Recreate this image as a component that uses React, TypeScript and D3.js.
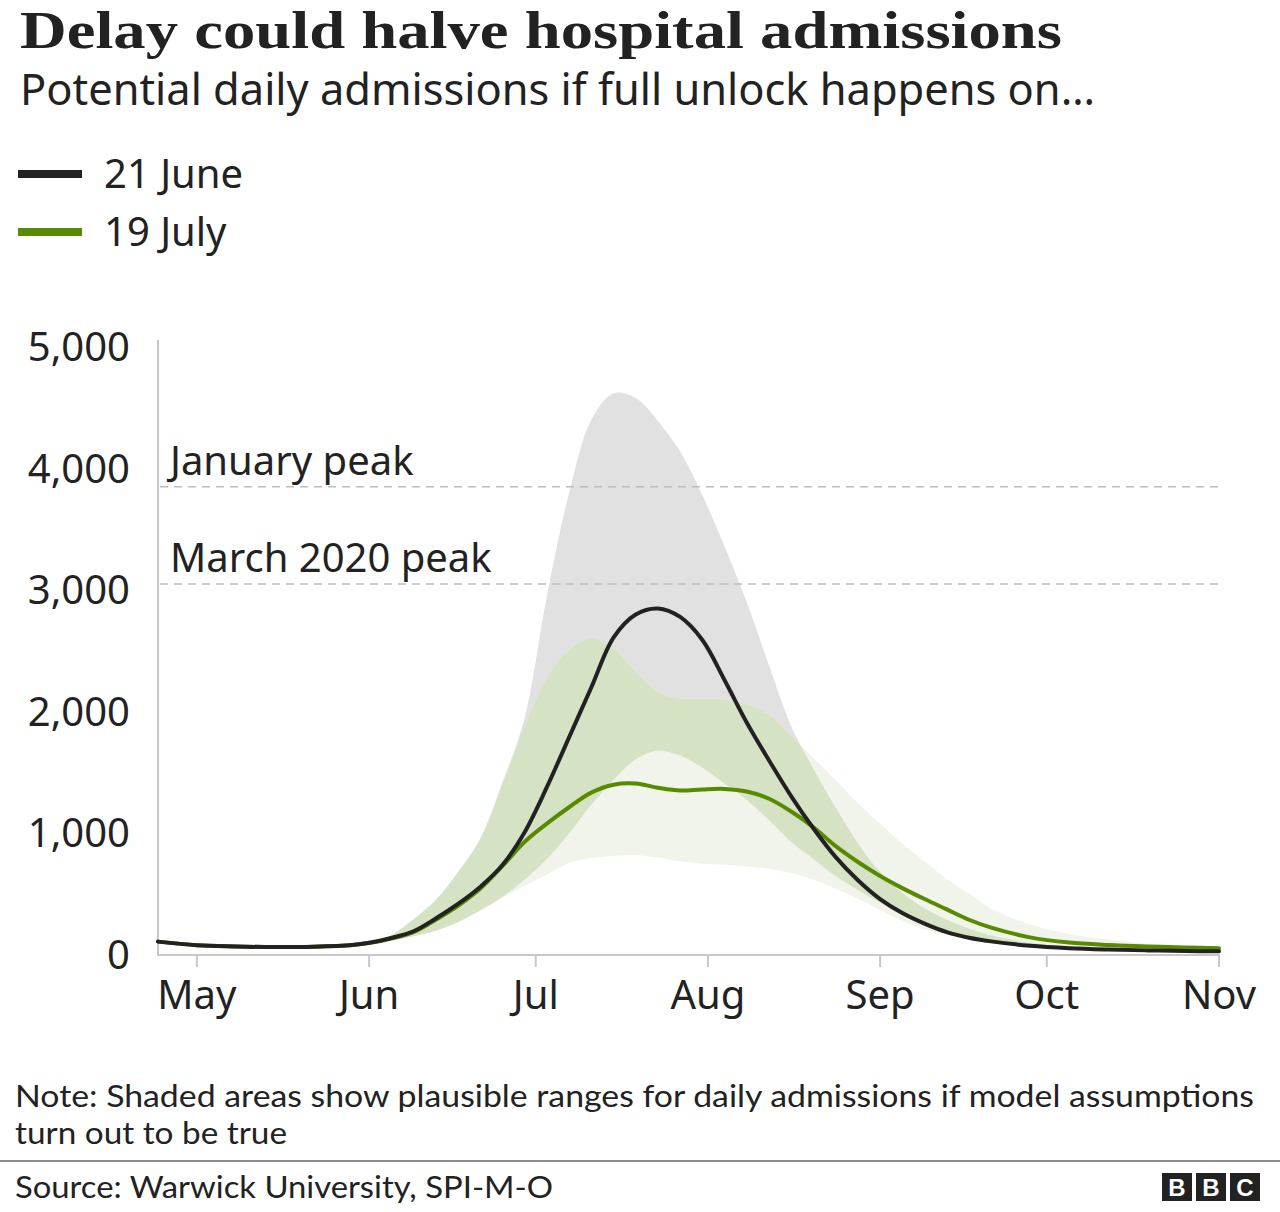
import React from "react";
import * as d3 from "d3";

// ---- Data ----
const dates = [
  "2021-04-24", "2021-05-01", "2021-05-08", "2021-05-15", "2021-05-22", "2021-05-29",
  "2021-06-01", "2021-06-05", "2021-06-09", "2021-06-13", "2021-06-17", "2021-06-21",
  "2021-06-25", "2021-06-29", "2021-07-03", "2021-07-07", "2021-07-11", "2021-07-15",
  "2021-07-19", "2021-07-23", "2021-07-27", "2021-07-31", "2021-08-04", "2021-08-08",
  "2021-08-12", "2021-08-16", "2021-08-20", "2021-08-24", "2021-08-28", "2021-09-01",
  "2021-09-05", "2021-09-09", "2021-09-13", "2021-09-17", "2021-09-21", "2021-09-28",
  "2021-10-05", "2021-10-12", "2021-10-19", "2021-10-26", "2021-11-01",
];

// Central projection, full unlock on 21 June
const june21Central = [
  110, 80, 70, 65, 68, 82, 100, 140, 195, 300, 420, 560, 740, 1010, 1380, 1790, 2200, 2610,
  2800, 2850, 2780, 2590, 2260, 1910, 1600, 1305, 1040, 805, 615, 460, 345, 258, 188, 142,
  112, 76, 56, 45, 38, 33, 30,
];
// Plausible range, 21 June
const june21Upper = [
  110, 80, 70, 65, 68, 82, 100, 165, 295, 452, 680, 955, 1420, 1950, 2950, 3800, 4400, 4620,
  4580, 4390, 4140, 3780, 3360, 2900, 2380, 1880, 1530, 1210, 920, 680, 510, 385, 290, 215,
  160, 100, 66, 50, 41, 36, 33,
];
const june21Lower = [
  110, 80, 70, 65, 68, 82, 100, 122, 155, 200, 270, 365, 480, 620, 790, 1000, 1235, 1440,
  1610, 1680, 1640, 1540, 1410, 1275, 1110, 930, 790, 650, 535, 430, 325, 238, 170, 127,
  96, 64, 46, 37, 31, 28, 26,
];

// Central projection, full unlock on 19 July
const july19Central = [
  110, 80, 70, 65, 68, 82, 98, 135, 188, 290, 405, 545, 730, 930, 1080, 1215, 1335, 1400,
  1410, 1375, 1352, 1362, 1366, 1345, 1285, 1180, 1050, 895, 765, 650, 550, 460, 375, 290,
  225, 145, 102, 82, 70, 62, 56,
];
// Plausible range, 19 July
const july19Upper = [
  110, 80, 70, 65, 68, 82, 100, 165, 295, 452, 680, 955, 1400, 1880, 2280, 2510, 2600, 2520,
  2330, 2165, 2110, 2110, 2100, 2060, 1975, 1800, 1620, 1440, 1250, 1080, 915, 770, 625, 505,
  380, 250, 172, 127, 93, 70, 58,
];
const july19Lower = [
  110, 80, 70, 65, 68, 82, 100, 122, 155, 200, 270, 365, 470, 570, 660, 757, 798, 815,
  820, 800, 770, 752, 742, 728, 710, 675, 620, 545, 465, 370, 280, 210, 165, 125,
  95, 62, 46, 37, 31, 28, 26,
];

const yTicks = [0, 1000, 2000, 3000, 4000, 5000];
const monthTicks = [
  "2021-05-01", "2021-06-01", "2021-07-01", "2021-08-01", "2021-09-01", "2021-10-01", "2021-11-01",
];
const monthLabels = ["May", "Jun", "Jul", "Aug", "Sep", "Oct", "Nov"];
const peakLabels = ["January peak", "March 2020 peak"];
const peakValues = [3850, 3050];
const legendLabels = ["21 June", "19 July"];

const SANS = "'Noto Sans', 'Open Sans', sans-serif";
const NOTE_SANS = "Lato, 'Noto Sans', sans-serif";
const SERIF = "'Liberation Serif', 'DejaVu Serif', serif";
const TEXT = "#222222";
const GREY_BAND = "#e1e1e1";
const DARK_GREEN_BAND = "#d6e2c4";
const LIGHT_GREEN_BAND = "#f0f4ea";
const GREEN = "#588a00";
const BLACK = "#222222";

export default function App() {
  const parse = d3.utcParse("%Y-%m-%d");
  const pts = dates.map((d) => parse(d) as Date);
  const x = d3
    .scaleUtc()
    .domain([parse("2021-04-24") as Date, parse("2021-11-01") as Date])
    .range([158, 1219]);
  const y = d3.scaleLinear().domain([0, 5000]).range([955, 347]);
  const curve = d3.curveCatmullRom.alpha(0.5);

  const linePath = (vals: number[]) =>
    d3
      .line<number>()
      .x((_, i) => x(pts[i]))
      .y((d) => y(d))
      .curve(curve)(vals) || "";

  const bandPath = (lo: number[], hi: number[]) =>
    d3
      .area<string>()
      .x((_, i) => x(pts[i]))
      .y0((_, i) => y(lo[i]))
      .y1((_, i) => y(hi[i]))
      .curve(curve)(dates) || "";

  const juneBand = bandPath(june21Lower, june21Upper);
  const julyBand = bandPath(july19Lower, july19Upper);

  return (
    <div style={{ position: "absolute", left: 0, top: 0 }}>
      <svg width={1280} height={1212} viewBox="0 0 1280 1212" style={{ display: "block", background: "#fff" }}>
        <defs>
          <clipPath id="juneBandClip">
            <path d={juneBand} />
          </clipPath>
        </defs>

        {/* Title */}
        <text x={20} y={48} fontFamily={SERIF} fontWeight={700} fontSize={53} fill={TEXT}
          textLength={1042} lengthAdjust="spacingAndGlyphs">
          Delay could halve hospital admissions
        </text>
        <text x={20} y={105} fontFamily={SANS} fontSize={44} fill={TEXT}
          textLength={1075} lengthAdjust="spacingAndGlyphs">
          Potential daily admissions if full unlock happens on…
        </text>

        {/* Legend */}
        {legendLabels.map((lab, i) => (
          <g key={lab} transform={`translate(0, ${174 + i * 58})`}>
            <line x1={18} x2={82} y1={0} y2={0} stroke={i === 0 ? BLACK : GREEN} strokeWidth={8} />
            <text x={104} y={0} dy="0.35em" fontFamily={SANS} fontSize={40} fill={TEXT}>
              {lab}
            </text>
          </g>
        ))}

        {/* Bands */}
        <path d={juneBand} fill={GREY_BAND} />
        <path d={julyBand} fill={LIGHT_GREEN_BAND} />
        <path d={julyBand} fill={DARK_GREEN_BAND} clipPath="url(#juneBandClip)" />

        {/* Reference peaks */}
        {peakValues.map((v, i) => (
          <g key={peakLabels[i]}>
            <line x1={160} x2={1220} y1={y(v)} y2={y(v)} stroke="#bdbdbd" strokeWidth={1.5}
              strokeDasharray="8,6" />
            <text x={170} y={y(v) - 12} fontFamily={SANS} fontSize={40} fill={TEXT}>
              {peakLabels[i]}
            </text>
          </g>
        ))}

        {/* Axes */}
        <line x1={158} x2={158} y1={340} y2={956} stroke="#c8c8c8" strokeWidth={2} />
        <line x1={157} x2={1220} y1={955} y2={955} stroke="#c8c8c8" strokeWidth={2} />
        {yTicks.map((t) => (
          <text key={t} x={130} y={y(t)} dy="0.35em" textAnchor="end" fontFamily={SANS}
            fontSize={40} fill={TEXT}>
            {d3.format(",")(t)}
          </text>
        ))}
        {monthTicks.map((m, i) => {
          const px = x(parse(m) as Date);
          return (
            <g key={m}>
              <line x1={px} x2={px} y1={955} y2={967} stroke="#c8c8c8" strokeWidth={2} />
              <text x={px} y={1009} textAnchor="middle" fontFamily={SANS} fontSize={40} fill={TEXT}>
                {monthLabels[i]}
              </text>
            </g>
          );
        })}

        {/* Lines */}
        <path d={linePath(july19Central)} fill="none" stroke={GREEN} strokeWidth={4}
          strokeLinejoin="round" strokeLinecap="round" />
        <path d={linePath(june21Central)} fill="none" stroke={BLACK} strokeWidth={4}
          strokeLinejoin="round" strokeLinecap="round" />

        {/* Note */}
        <text x={15} y={1107} fontFamily={NOTE_SANS} fontSize={30} fill={TEXT}
          textLength={1239} lengthAdjust="spacingAndGlyphs">
          Note: Shaded areas show plausible ranges for daily admissions if model assumptions
        </text>
        <text x={15} y={1144} fontFamily={NOTE_SANS} fontSize={30} fill={TEXT}
          textLength={272} lengthAdjust="spacingAndGlyphs">
          turn out to be true
        </text>

        <line x1={0} x2={1280} y1={1161} y2={1161} stroke="#8c8c8c" strokeWidth={2} />

        <text x={15} y={1198} fontFamily={NOTE_SANS} fontSize={30} fill={TEXT}
          textLength={538} lengthAdjust="spacingAndGlyphs">
          Source: Warwick University, SPI-M-O
        </text>

        {/* BBC logo */}
        {["B", "B", "C"].map((ch, i) => (
          <g key={i} transform={`translate(${1162 + i * 34}, 1173)`}>
            <rect width={30} height={28} fill="#222" />
            <text x={15} y={14} dy="0.36em" textAnchor="middle" fontFamily="'Liberation Sans', Arial, sans-serif"
              fontWeight={700} fontSize={24} fill="#fff">
              {ch}
            </text>
          </g>
        ))}
      </svg>
    </div>
  );
}
